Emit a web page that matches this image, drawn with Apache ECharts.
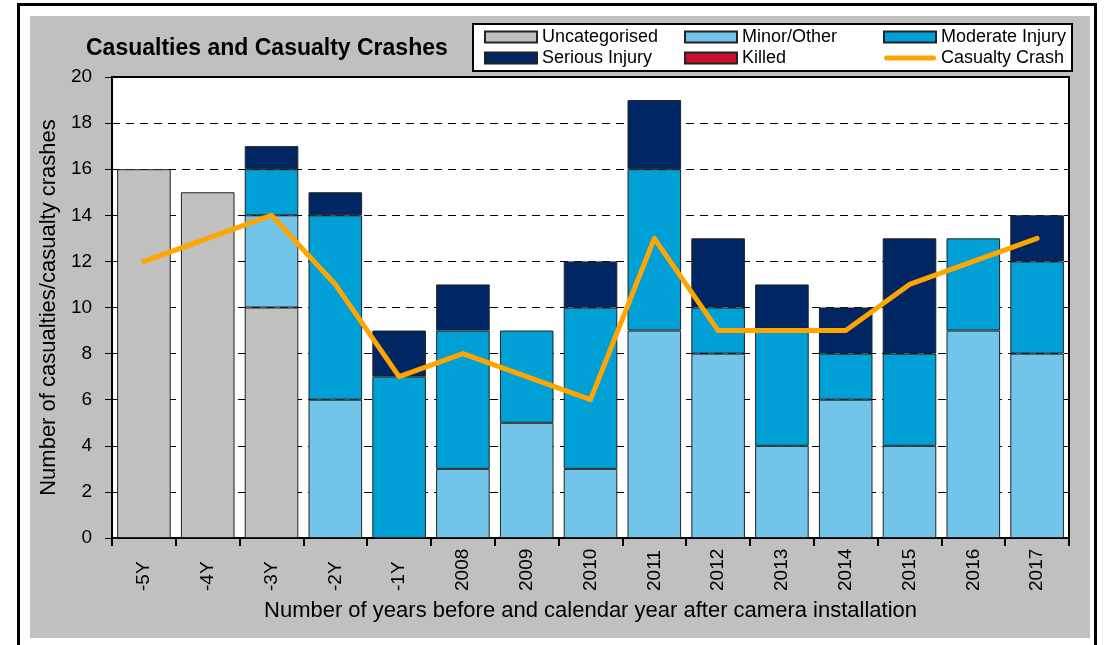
<!DOCTYPE html>
<html>
<head>
<meta charset="utf-8">
<script src="https://cdn.jsdelivr.net/npm/echarts@6/dist/echarts.min.js"></script>
<style>
  html, body { margin: 0; padding: 0; background: #fff; overflow: hidden; }
  .frame {
    position: absolute; left: 17px; top: 3px;
    width: 1080px; height: 700px;
    border: 3px solid #000; box-sizing: border-box;
  }
  #chart {
    position: absolute; left: 30px; top: 16px;
    width: 1060px; height: 622px;
  }
</style>
</head>
<body>
<div class="frame"></div>
<div id="chart"></div>
<script>
// categories: years before camera + calendar years after
const categories = ['-5Y', '-4Y', '-3Y', '-2Y', '-1Y', '2008', '2009', '2010',
  '2011', '2012', '2013', '2014', '2015', '2016', '2017'];

const uncategorised = [16, 15, 10, 0, 0, 0, 0, 0, 0, 0, 0, 0, 0, 0, 0];
const minorOther    = [0, 0, 4, 6, 0, 3, 5, 3, 9, 8, 4, 6, 4, 9, 8];
const moderate      = [0, 0, 2, 8, 7, 6, 4, 7, 7, 2, 5, 2, 4, 4, 4];
const serious       = [0, 0, 1, 1, 2, 2, 0, 2, 3, 3, 2, 2, 5, 0, 2];
const killed        = [0, 0, 0, 0, 0, 0, 0, 0, 0, 0, 0, 0, 0, 0, 0];
const casualtyCrash = [12, 13, 14, 11, 7, 8, 7, 6, 13, 9, 9, 9, 11, 12, 13];

const FONT = '"Liberation Sans", Arial, sans-serif';

// empty segments are left out so they don't draw a border line
const seg = arr => arr.map(v => (v === 0 ? '-' : v));

function barSeries(name, data, color) {
  return {
    name: name,
    type: 'bar',
    stack: 'total',
    barCategoryGap: '16%',
    data: seg(data),
    itemStyle: { color: color, borderColor: '#222', borderWidth: 1 },
    emphasis: { disabled: true }
  };
}

const legendText = { fontFamily: FONT, fontSize: 18, color: '#000' };
function legendCol(left, names) {
  return {
    orient: 'vertical',
    left: left,
    top: 12,
    padding: 0,
    itemGap: 3,
    itemWidth: 52,
    itemHeight: 11,
    textStyle: legendText,
    data: names
  };
}

// thick rounded bar for the line's legend key
const lineKey = 'path://M2.5,0 L49.5,0 A2.5,2.5 0 0 1 49.5,5 L2.5,5 A2.5,2.5 0 0 1 2.5,0 Z';

const chart = echarts.init(document.getElementById('chart'));
chart.setOption({
  backgroundColor: '#c0c0c0',
  animation: false,
  title: {
    text: 'Casualties and Casualty Crashes',
    left: 56,
    top: 21,
    padding: 0,
    textStyle: { fontFamily: FONT, fontSize: 23, fontWeight: 'bold', color: '#000' }
  },
  graphic: [{
    type: 'rect',
    z: 1,
    shape: { x: 443, y: 8, width: 599, height: 47 },
    style: { fill: '#fff', stroke: '#000', lineWidth: 2 }
  }],
  legend: [
    legendCol(454, [{ name: 'Uncategorised', icon: 'rect' }, { name: 'Serious Injury', icon: 'rect' }]),
    legendCol(654, [{ name: 'Minor/Other', icon: 'rect' }, { name: 'Killed', icon: 'rect' }]),
    legendCol(853, [
      { name: 'Moderate Injury', icon: 'rect' },
      { name: 'Casualty Crash', icon: lineKey, itemStyle: { color: '#ffa500', borderWidth: 0 } }
    ])
  ],
  grid: {
    left: 78, top: 61, right: 21, bottom: 100,
    show: true, backgroundColor: '#fff', borderColor: '#000', borderWidth: 2,
    containLabel: false
  },
  xAxis: {
    type: 'category',
    data: categories,
    boundaryGap: true,
    name: 'Number of years before and calendar year after camera installation',
    nameLocation: 'middle',
    nameGap: 62,
    nameTextStyle: { fontFamily: FONT, fontSize: 22, color: '#000' },
    axisLine: { lineStyle: { color: '#000', width: 2 } },
    axisTick: { show: true, length: 8, lineStyle: { color: '#000', width: 2 } },
    axisLabel: {
      rotate: 90, align: 'left', margin: 53,
      fontFamily: FONT, fontSize: 19, color: '#000'
    }
  },
  yAxis: {
    type: 'value',
    min: 0, max: 20, interval: 2,
    name: 'Number of casualties/casualty crashes',
    nameLocation: 'middle',
    nameGap: 50,
    nameTextStyle: { fontFamily: FONT, fontSize: 22, color: '#000' },
    axisLine: { show: true, lineStyle: { color: '#000', width: 2 } },
    axisTick: { show: true, length: 7, lineStyle: { color: '#000', width: 1 } },
    axisLabel: { margin: 20, fontFamily: FONT, fontSize: 19, color: '#000' },
    splitLine: { show: true, lineStyle: { color: '#000', width: 1, type: [8, 6] } }
  },
  series: [
    barSeries('Uncategorised', uncategorised, '#c0c0c0'),
    barSeries('Minor/Other', minorOther, '#72c5e8'),
    barSeries('Moderate Injury', moderate, '#00a0d6'),
    barSeries('Serious Injury', serious, '#002663'),
    barSeries('Killed', killed, '#c8102e'),
    {
      name: 'Casualty Crash',
      type: 'line',
      data: casualtyCrash,
      symbol: 'none',
      z: 5,
      lineStyle: { color: '#ffa500', width: 5, cap: 'round', join: 'round' },
      itemStyle: { color: '#ffa500' },
      emphasis: { disabled: true }
    }
  ]
});
</script>
</body>
</html>
